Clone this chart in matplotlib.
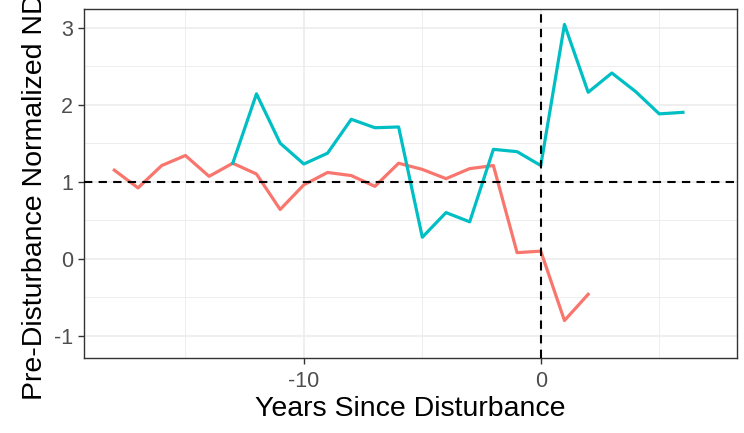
import numpy as np
import matplotlib
matplotlib.use("Agg")
import matplotlib.pyplot as plt
from matplotlib.ticker import MultipleLocator

plt.rcParams["font.family"] = ["Liberation Sans", "DejaVu Sans"]
plt.rcParams["axes.unicode_minus"] = False

# years since disturbance
years_red = [-18, -17, -16, -15, -14, -13, -12, -11, -10, -9, -8, -7, -6,
             -5, -4, -3, -2, -1, 0, 1, 2]
ndvi_red = [1.15, 0.92, 1.21, 1.34, 1.07, 1.24, 1.10, 0.64, 0.96, 1.12, 1.08,
            0.94, 1.24, 1.16, 1.04, 1.17, 1.21, 0.08, 0.10, -0.80, -0.46]

years_teal = [-13, -12, -11, -10, -9, -8, -7, -6, -5, -4, -3, -2, -1, 0,
              1, 2, 3, 4, 5, 6]
ndvi_teal = [1.24, 2.14, 1.50, 1.23, 1.37, 1.81, 1.70, 1.71, 0.28, 0.60,
             0.48, 1.42, 1.39, 1.21, 3.04, 2.16, 2.41, 2.17, 1.88, 1.90]

fig = plt.figure(figsize=(7.44, 4.33), dpi=100)
ax = fig.add_axes([0.1129, 0.1732, 0.8773, 0.8053])

ax.set_xlim(-19.28, 8.27)
ax.set_ylim(-1.286, 3.236)
ax.xaxis.set_major_locator(MultipleLocator(10))
ax.xaxis.set_minor_locator(MultipleLocator(5))
ax.yaxis.set_major_locator(MultipleLocator(1))
ax.yaxis.set_minor_locator(MultipleLocator(0.5))
ax.grid(which="major", color="#EBEBEB", lw=1.1)
ax.grid(which="minor", color="#EBEBEB", lw=0.6)
ax.set_axisbelow(True)

ax.plot(years_red, ndvi_red, color="#F8766D", lw=2.3, zorder=3)
ax.plot(years_teal, ndvi_teal, color="#00BFC4", lw=2.3, zorder=3)
ax.axhline(1, color="black", ls=(0, (4, 3)), lw=1.5, zorder=4)
ax.axvline(0, color="black", ls=(0, (4, 3)), lw=1.5, zorder=4)

for s in ax.spines.values():
    s.set_color("#333333")
    s.set_linewidth(1.0)
ax.tick_params(which="major", length=4, width=1, color="#333333", pad=4,
               labelsize=15.5, labelcolor="#4D4D4D")
ax.tick_params(axis="x", pad=5.5)
ax.tick_params(which="minor", length=0)

ax.set_xlabel("Years Since Disturbance", fontsize=20.5, labelpad=3)
ax.set_ylabel("Pre-Disturbance Normalized NDVI", fontsize=20.5, labelpad=4)

fig.savefig("out.png", dpi=100)
